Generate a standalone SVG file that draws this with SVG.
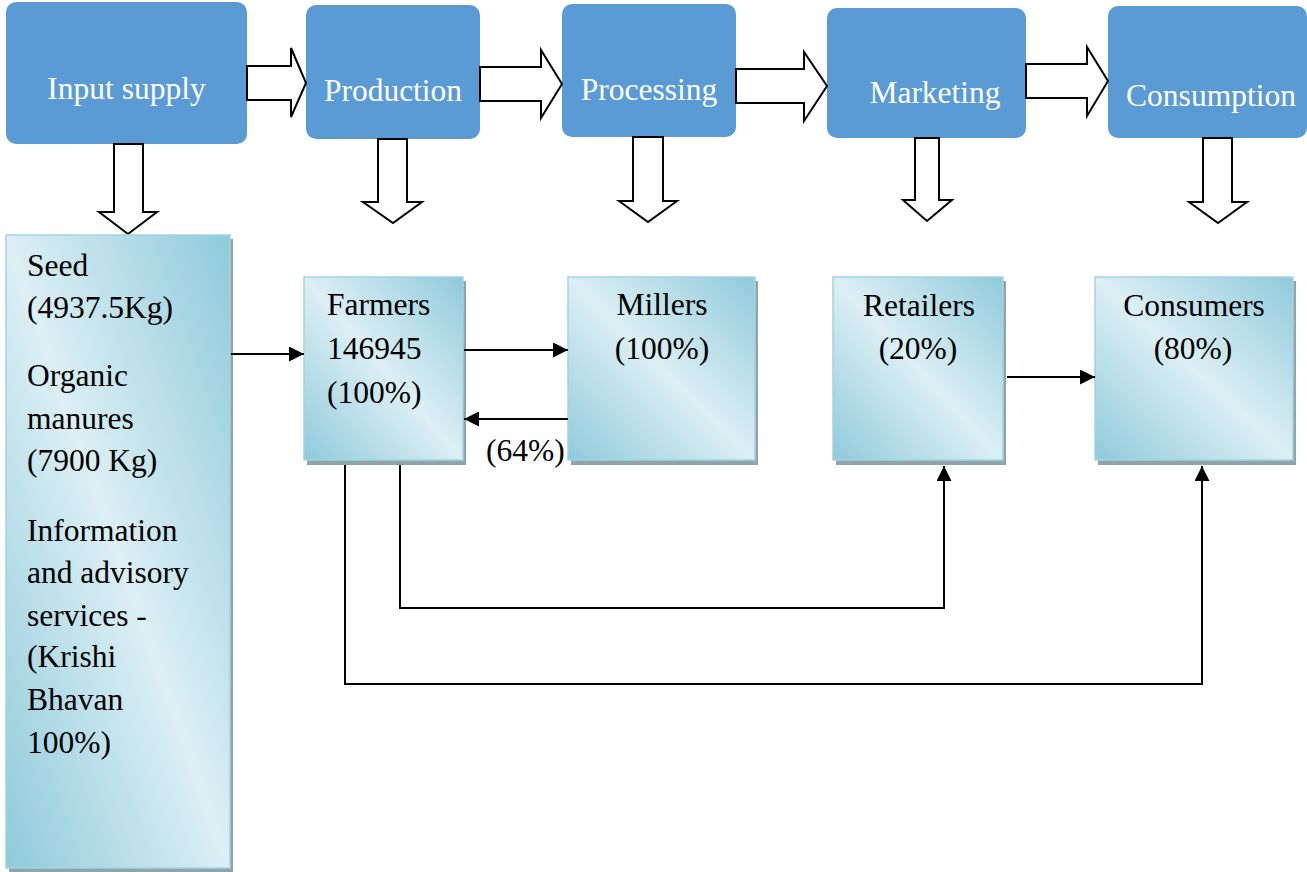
<svg xmlns="http://www.w3.org/2000/svg" width="1307" height="872" viewBox="0 0 1307 872">
  <defs>
    <linearGradient id="aqua" x1="1" y1="0" x2="0" y2="1">
      <stop offset="0" stop-color="#8FCADB"/>
      <stop offset="0.5" stop-color="#DCEFF4"/>
      <stop offset="1" stop-color="#8FCADB"/>
    </linearGradient>
    <marker id="head" viewBox="0 0 10 10" refX="10" refY="5" markerWidth="15" markerHeight="15" markerUnits="userSpaceOnUse" orient="auto">
      <path d="M0,0 L10,5 L0,10 z" fill="#000"/>
    </marker>
    <style>
      .stage { fill: #5B9BD5; }
      .stage-label { font-family: 'Liberation Serif', 'Times New Roman', Times, 'DejaVu Serif', serif; font-size: 31.5px; fill: #FFFFFF; text-anchor: middle; }
      .block { fill: #FFFFFF; stroke: #000; stroke-width: 2; stroke-linejoin: miter; }
      .shadow { fill: #8FA4AB; }
      .card { fill: url(#aqua); stroke: #A3D4E0; stroke-width: 1.5; }
      .label { font-family: 'Liberation Serif', 'Times New Roman', Times, 'DejaVu Serif', serif; font-size: 31.5px; fill: #000; }
      .mid { text-anchor: middle; }
      .link { fill: none; stroke: #000; stroke-width: 2; }
    </style>
  </defs>

  <rect width="1307" height="872" fill="#FFFFFF"/>

  <!-- value-chain stages -->
  <g id="stage-input">
    <rect class="stage" x="6" y="2" width="241" height="142" rx="10"/>
    <text class="stage-label" x="126.5" y="99">Input supply</text>
  </g>
  <g id="stage-production">
    <rect class="stage" x="306" y="5" width="174" height="134" rx="10"/>
    <text class="stage-label" x="393" y="101">Production</text>
  </g>
  <g id="stage-processing">
    <rect class="stage" x="562" y="4" width="174" height="133" rx="10"/>
    <text class="stage-label" x="649" y="100">Processing</text>
  </g>
  <g id="stage-marketing">
    <rect class="stage" x="827" y="8" width="199" height="130" rx="10"/>
    <text class="stage-label" x="935" y="103">Marketing</text>
  </g>
  <g id="stage-consumption">
    <rect class="stage" x="1108" y="6" width="199" height="132" rx="10"/>
    <text class="stage-label" x="1211" y="106">Consumption</text>
  </g>

  <!-- hollow block arrows between and below the stages -->
  <g id="block-arrows">
    <polygon class="block" points="247,66 291,66 291,48 306,83 291,117 291,100 247,100"/>
    <polygon class="block" points="480,67 541,67 541,50 562,84 541,118 541,101 480,101"/>
    <polygon class="block" points="736,69 804,69 804,52 827,86 804,121 804,103 736,103"/>
    <polygon class="block" points="1026,64 1087,64 1087,47 1108,81 1087,116 1087,98 1026,98"/>
    <polygon class="block" points="114,144 143,144 143,212 157,212 128,234 99,212 114,212"/>
    <polygon class="block" points="378,139 407,139 407,202 422,202 393,223 363,202 378,202"/>
    <polygon class="block" points="633,137 663,137 663,201 677,201 648,222 619,201 633,201"/>
    <polygon class="block" points="915,138 939,138 939,200 952,200 927,221 903,200 915,200"/>
    <polygon class="block" points="1203,138 1232,138 1232,202 1247,202 1218,223 1189,202 1203,202"/>
  </g>

  <!-- actors -->
  <g id="inputs">
    <rect class="shadow" x="9" y="239" width="224" height="633"/>
    <rect class="card" x="6" y="235" width="224" height="633"/>
    <text class="label" x="27" y="276">Seed</text>
    <text class="label" x="27" y="318">(4937.5Kg)</text>
    <text class="label" x="27" y="386">Organic</text>
    <text class="label" x="27" y="429">manures</text>
    <text class="label" x="27" y="471">(7900 Kg)</text>
    <text class="label" x="27" y="541">Information</text>
    <text class="label" x="27" y="583">and advisory</text>
    <text class="label" x="27" y="626">services -</text>
    <text class="label" x="27" y="667">(Krishi</text>
    <text class="label" x="27" y="710">Bhavan</text>
    <text class="label" x="27" y="753">100%)</text>
  </g>
  <g id="farmers">
    <rect class="shadow" x="307" y="281" width="159" height="184"/>
    <rect class="card" x="304" y="277" width="159" height="183"/>
    <text class="label" x="327" y="315">Farmers</text>
    <text class="label" x="327" y="359">146945</text>
    <text class="label" x="327" y="403">(100%)</text>
  </g>
  <g id="millers">
    <rect class="shadow" x="571" y="281" width="187" height="184"/>
    <rect class="card" x="568" y="277" width="187" height="183"/>
    <text class="label mid" x="662" y="315">Millers</text>
    <text class="label mid" x="662" y="359">(100%)</text>
  </g>
  <g id="retailers">
    <rect class="shadow" x="836" y="281" width="170" height="184"/>
    <rect class="card" x="833" y="277" width="170" height="183"/>
    <text class="label mid" x="919" y="316">Retailers</text>
    <text class="label mid" x="918" y="359">(20%)</text>
  </g>
  <g id="consumers">
    <rect class="shadow" x="1098" y="281" width="198" height="184"/>
    <rect class="card" x="1095" y="277" width="198" height="183"/>
    <text class="label mid" x="1194" y="316">Consumers</text>
    <text class="label mid" x="1193" y="359">(80%)</text>
  </g>
  <g id="return-share">
    <text class="label" x="486" y="461">(64%)</text>
  </g>

  <!-- flows between actors -->
  <g id="connectors">
    <line class="link" x1="231" y1="354" x2="304" y2="354" marker-end="url(#head)"/>
    <line class="link" x1="464" y1="350" x2="568" y2="350" marker-end="url(#head)"/>
    <line class="link" x1="568" y1="419" x2="464" y2="419" marker-end="url(#head)"/>
    <line class="link" x1="1007" y1="377" x2="1095" y2="377" marker-end="url(#head)"/>
    <path class="link" d="M400,465 V608 H944 V466" marker-end="url(#head)"/>
    <path class="link" d="M345,465 V684 H1202 V466" marker-end="url(#head)"/>
  </g>
</svg>
